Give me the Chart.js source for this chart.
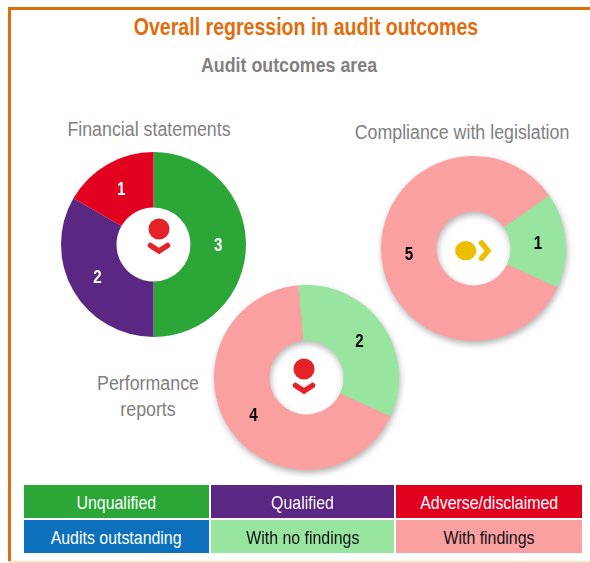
<!DOCTYPE html>
<html>
<head>
<meta charset="utf-8">
<title>Overall regression in audit outcomes</title>
<script src="https://cdn.jsdelivr.net/npm/chart.js@4"></script>
<style>
  html, body { margin: 0; padding: 0; background: #fff; }
  #page { position: relative; width: 590px; height: 563px; overflow: hidden; font-family: "Liberation Sans", Arial, sans-serif; }
  .frameTop { position: absolute; left: 8px; top: 7px; width: 582px; height: 3px; background: #e36c0a; }
  .frameLeft { position: absolute; left: 8px; top: 7px; width: 3px; height: 554px; background: #e36c0a; }
  .frameBottom { position: absolute; left: 8px; top: 561px; width: 582px; height: 2px; background: #fbdcc6; }
  .txt { position: absolute; white-space: nowrap; transform: translateX(-50%) scaleX(.89); text-align: center; line-height: 1; }
  .donut { position: absolute; width: 185px; height: 185px; }
  .shadow { filter: drop-shadow(1px 3px 3px rgba(0, 0, 0, .3)); }
  .icon { position: absolute; }
  .cell { position: absolute; height: 33px; line-height: 35px; text-align: center; font-size: 18.5px; }
  .cell span { display: inline-block; transform: scaleX(.86); }
</style>
</head>
<body>
<div id="page">
  <div class="frameTop"></div>
  <div class="frameLeft"></div>
  <div class="frameBottom"></div>

  <div class="txt" style="left:306px;top:16px;font-size:23px;font-weight:bold;color:#e36c0a;transform:translateX(-50%) scaleX(.85)">Overall regression in audit outcomes</div>
  <div class="txt" style="left:289px;top:55px;font-size:20px;font-weight:bold;color:#808080">Audit outcomes area</div>
  <div class="txt" style="left:149px;top:119px;font-size:20px;color:#808080">Financial statements</div>
  <div class="txt" style="left:462px;top:122px;font-size:20px;color:#808080">Compliance with legislation</div>
  <div class="txt" style="left:148px;top:373px;font-size:20px;color:#808080">Performance</div>
  <div class="txt" style="left:148px;top:399px;font-size:20px;color:#808080">reports</div>

  <canvas id="financial" class="donut" width="185" height="185" style="left:61px;top:152px"></canvas>
  <canvas id="compliance" class="donut shadow" width="185" height="185" style="left:381px;top:156px"></canvas>
  <canvas id="performance" class="donut shadow" width="185" height="185" style="left:214px;top:285px"></canvas>

  <svg class="icon" style="left:143px;top:215px" width="32" height="42">
    <circle cx="16" cy="14" r="10.5" fill="#e52228"/>
    <path d="M7.5 30.5 L16 36 L24.5 30.5" fill="none" stroke="#e52228" stroke-width="5.5" stroke-linecap="round" stroke-linejoin="miter"/>
  </svg>
  <svg class="icon" style="left:288px;top:355px" width="32" height="42">
    <circle cx="16" cy="14" r="10.5" fill="#e52228"/>
    <path d="M7.5 30.5 L16 36 L24.5 30.5" fill="none" stroke="#e52228" stroke-width="5.5" stroke-linecap="round" stroke-linejoin="miter"/>
  </svg>
  <svg class="icon" style="left:452px;top:236px" width="42" height="30">
    <ellipse cx="13.7" cy="14.7" rx="10.7" ry="9.6" fill="#eebf00"/>
    <path d="M29.5 7 L36 14.7 L29.5 22.5" fill="none" stroke="#eebf00" stroke-width="5.5" stroke-linecap="round" stroke-linejoin="miter"/>
  </svg>

  <div id="legend"></div>
</div>

<script>
// valeurs
const financialLabels = ["Unqualified", "Qualified", "Adverse/disclaimed"]
const financialValues = [3, 2, 1]
const complianceLabels = ["With no findings", "With findings"]
const complianceValues = [1, 5]
const performanceLabels = ["With no findings", "With findings"]
const performanceValues = [2, 4]

const legendLabels = ["Unqualified", "Qualified", "Adverse/disclaimed", "Audits outstanding", "With no findings", "With findings"]
const legendColors = ["#2ba637", "#5a2782", "#e2001f", "#0c70bc", "#98e5a0", "#fba0a0"]
const legendText = ["#fff", "#fff", "#fff", "#fff", "#111", "#111"]

function colorOf(label) {
    return legendColors[legendLabels.indexOf(label)]
}

// affiche la valeur au milieu de chaque tranche
const valueLabels = {
    id: "valueLabels",
    afterDatasetsDraw(chart) {
        const ctx = chart.ctx
        const dark = chart.options.plugins.valueLabels.color
        chart.getDatasetMeta(0).data.forEach((arc, i) => {
            const p = arc.getCenterPoint()
            ctx.save()
            ctx.translate(p.x, p.y + 1)
            ctx.scale(.8, 1)
            ctx.font = "bold 19px 'Liberation Sans'"
            ctx.fillStyle = dark
            ctx.textAlign = "center"
            ctx.textBaseline = "middle"
            ctx.fillText(chart.data.datasets[0].data[i], 0, 0)
            ctx.restore()
        })
    }
}

function drawDonut(id, labels, values, rotation, textColor) {
    new Chart(document.querySelector(id), {
        type: "doughnut",
        data: {
            labels: labels,
            datasets: [{
                data: values,
                backgroundColor: labels.map(colorOf),
                borderWidth: 0,
                hoverBorderWidth: 0
            }]
        },
        options: {
            responsive: false,
            animation: false,
            cutout: "40%",
            rotation: rotation,
            plugins: {
                legend: { display: false },
                tooltip: { enabled: false },
                valueLabels: { color: textColor }
            }
        },
        plugins: [valueLabels]
    })
}

drawDonut("#financial", financialLabels, financialValues, 0, "#fff")
drawDonut("#compliance", complianceLabels, complianceValues, 55, "#000")
drawDonut("#performance", performanceLabels, performanceValues, -5, "#000")

// legende en deux lignes de trois cases
const legend = document.querySelector("#legend")
const colLeft = [24, 211, 396]
const colWidth = [185, 183, 186]
const rowTop = [485, 520]
legendLabels.forEach((label, i) => {
    const cell = document.createElement("div")
    cell.className = "cell"
    cell.style.left = colLeft[i % 3] + "px"
    cell.style.width = colWidth[i % 3] + "px"
    cell.style.top = rowTop[Math.floor(i / 3)] + "px"
    cell.style.background = legendColors[i]
    cell.style.color = legendText[i]
    cell.innerHTML = `<span>${label}</span>`
    legend.appendChild(cell)
})
</script>
</body>
</html>
